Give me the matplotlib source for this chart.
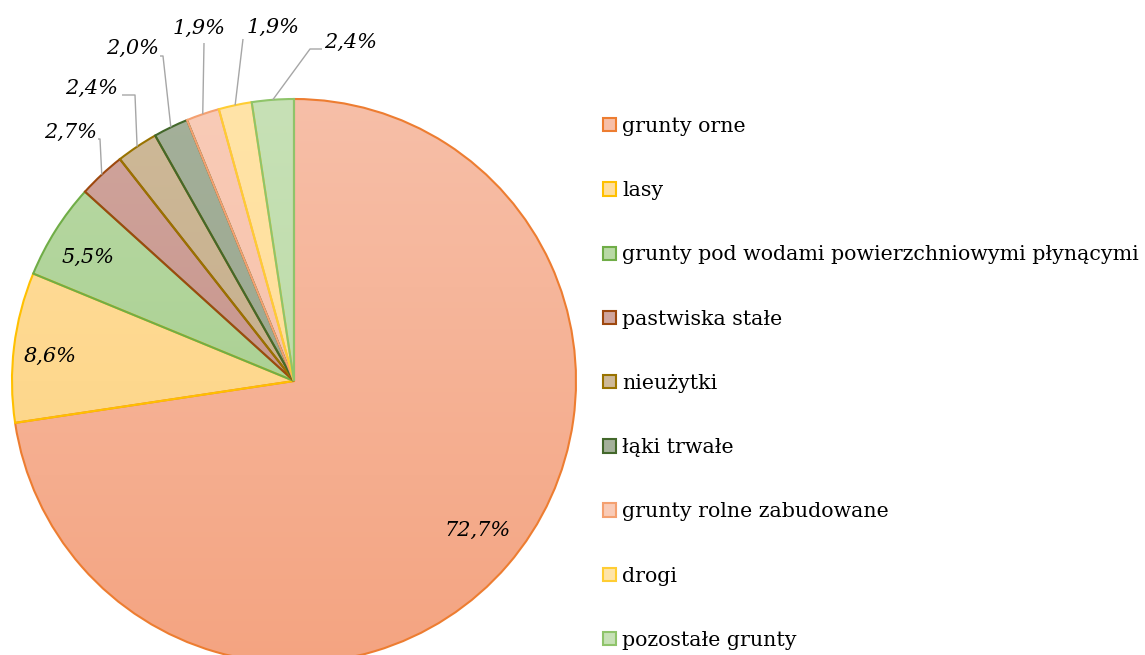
import matplotlib
matplotlib.use("Agg")
import matplotlib.pyplot as plt
import numpy as np
from matplotlib.patches import Patch
from matplotlib.colors import LinearSegmentedColormap

# Canvas size in pixels (1 data unit = 1 pixel)
W, H = 1145, 655

# Data
categories = ["grunty orne", "lasy", "grunty pod wodami powierzchniowymi płynącymi",
              "pastwiska stałe", "nieużytki", "łąki trwałe",
              "grunty rolne zabudowane", "drogi", "pozostałe grunty"]
shares = [72.7, 8.6, 5.5, 2.7, 2.4, 2.0, 1.9, 1.9, 2.4]

# Styles: gradient top / bottom and outline per slice
fill_top = ["#F7BFA8", "#FFDE9E", "#B9D9A5", "#D0A59D", "#CEB998", "#A4B09A", "#F9CBB7", "#FFE4A8", "#C7E1B6"]
fill_bot = ["#F4A481", "#FDD27E", "#A0CB85", "#C28A80", "#C1A884", "#94A288", "#F6BBA1", "#FFD98C", "#B6D8A0"]
edges = ["#ED7D31", "#FFC000", "#70AD47", "#9E480E", "#997300", "#43682B", "#F4A070", "#FFCD33", "#8FC46A"]

# Pie geometry (image pixels, y from top)
CX, CY, R = 294, 381, 282

# Label positions (image pixels, y from top)
inner_pos = {0: (478, 530), 1: (50, 356), 2: (88, 257)}
outer_pos = {3: (71, 132), 4: (92, 88), 5: (133, 48), 6: (199, 28), 7: (273, 27), 8: (351, 42)}
# leader line: elbow and end point near text
leader_pts = {3: [(100, 139), (98, 139)], 4: [(135, 95), (122, 95)], 5: [(163, 56), (160, 56)],
              6: [(204, 43)], 7: [(243, 39)], 8: [(310, 49), (322, 49)]}


def Y(y):
    return H - y


fig = plt.figure(figsize=(W / 100, H / 100), dpi=100)
ax = fig.add_axes([0, 0, 1, 1])

wedges, _ = ax.pie(shares, startangle=90, counterclock=False, radius=R,
                   center=(CX, Y(CY)), colors=fill_top,
                   wedgeprops=dict(linewidth=1.5))

grad = np.linspace(0, 1, 256).reshape(-1, 1)
for w, top, bot, ec in zip(wedges, fill_top, fill_bot, edges):
    cmap = LinearSegmentedColormap.from_list("g", [top, bot])
    im = ax.imshow(grad, cmap=cmap, aspect="auto", origin="upper",
                   extent=(CX - R, CX + R, Y(CY) - R, Y(CY) + R), zorder=0.5)
    im.set_clip_path(w)
    w.set_facecolor("none")
    w.set_edgecolor(ec)

ax.set_xlim(0, W)
ax.set_ylim(0, H)
ax.axis("off")

lab_font = dict(family="DejaVu Serif", style="italic", size=15, color="black")


def pct(v):
    return f"{v:.1f}".replace(".", ",") + "%"


for i, (x, y) in inner_pos.items():
    ax.text(x, Y(y), pct(shares[i]), ha="center", va="center", **lab_font)

for i, (x, y) in outer_pos.items():
    w = wedges[i]
    mid = np.radians((w.theta1 + w.theta2) / 2)
    ax_x = CX + R * np.cos(mid)
    ax_y = Y(CY) + R * np.sin(mid)
    xs = [ax_x] + [p[0] for p in leader_pts[i]]
    ys = [ax_y] + [Y(p[1]) for p in leader_pts[i]]
    ax.plot(xs, ys, color="#A6A6A6", lw=1.0, solid_capstyle="butt")
    ax.text(x, Y(y), pct(shares[i]), ha="center", va="center", **lab_font)

handles = [Patch(facecolor=t, edgecolor=e, linewidth=1.5) for t, e in zip(fill_top, edges)]
fig.legend(handles, categories, loc="upper left", bbox_to_anchor=(603 / W, 1 - 117 / H),
           frameon=False, prop=dict(family="DejaVu Serif", size=14.8),
           handlelength=0.62, handleheight=0.62, handletextpad=0.3,
           labelspacing=2.2, borderpad=0, borderaxespad=0)

fig.savefig("out.png", dpi=100)
